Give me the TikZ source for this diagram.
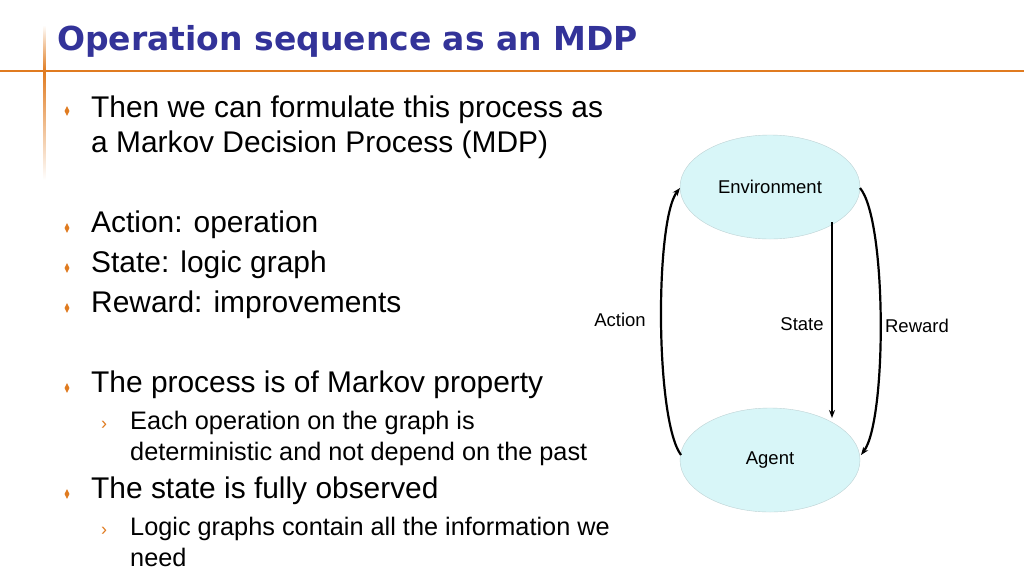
\documentclass[tikz,border=0pt]{standalone}
\usepackage{fontspec}
\setmainfont{Liberation Sans}
\newfontfamily\titlefont{DejaVu Sans}
\usetikzlibrary{shapes.geometric,arrows.meta}
\definecolor{ttl}{HTML}{333399}
\definecolor{org}{HTML}{E07B20}
\definecolor{ell}{HTML}{D8F6F8}
\tikzset{
  txt/.style={anchor=base west,inner sep=0pt,font=\fontsize{29.9}{32}\selectfont},
  sub/.style={anchor=base west,inner sep=0pt,font=\fontsize{25.3}{28}\selectfont},
  lbl/.style={inner sep=0pt,font=\fontsize{18.5}{20}\selectfont},
  blt/.style={diamond,fill=org,inner sep=0pt,minimum width=5pt,minimum height=10pt},
  sblt/.style={anchor=base,inner sep=0pt,text=org,font=\fontsize{18}{18}\selectfont},
  ellbox/.style={ellipse,draw=ell!70!gray,fill=ell,minimum width=180pt,minimum height=104pt,inner sep=0pt,font=\fontsize{18.5}{20}\selectfont},
  arr/.style={-{Stealth[length=8pt,width=6pt]},line width=2.2pt},
}
\begin{document}
\begin{tikzpicture}[x=1pt,y=-1pt]
\useasboundingbox (0,0) rectangle (1024,576);
\fill[white] (0,0) rectangle (1024,576);
\draw[org,line width=1.3pt] (0,71) -- (1024,71);
\shade[top color=white,bottom color=org] (43.3,25) rectangle (45.3,71);
\shade[top color=org,bottom color=white] (43.3,71) rectangle (45.3,180);
\node[anchor=base west,inner sep=0pt,text=ttl,font=\titlefont\bfseries\fontsize{33}{36}\selectfont] (title) at (57,50) {Operation sequence as an MDP};
% bullets
\node[txt] (t1) at (91,117) {Then we can formulate this process as};
\node[txt] (t1b) at (91,152) {a Markov Decision Process (MDP)};
\node[txt] (t2) at (91,232) {Action: operation};
\node[txt] (t3) at (91,272) {State: logic graph};
\node[txt] (t4) at (91,312) {Reward: improvements};
\node[txt] (t5) at (91,392) {The process is of Markov property};
\node[sub] (s1) at (130,429) {Each operation on the graph is};
\node[sub] (s1b) at (130,460) {deterministic and not depend on the past};
\node[txt] (t6) at (91,498) {The state is fully observed};
\node[sub] (s2) at (130,535) {Logic graphs contain all the information we};
\node[sub] (s2b) at (130,566) {need};
\foreach \y/\n in {111/b1,228/b2,268/b3,308/b4,388/b5,494/b6} \node[blt] (\n) at (67,\y) {};
\node[sblt] (sb1) at (104,429) {›};
\node[sblt] (sb2) at (104,535) {›};
% diagram
\node[ellbox] (env) at (770,187) {Environment};
\node[ellbox] (ag) at (770,460) {Agent};
\coordinate (envL) at (680,188);
\coordinate (envR) at (860,188);
\coordinate (agL) at (681,455);
\coordinate (agR) at (861,455);
\coordinate (stT) at (832,222);
\coordinate (stB) at (832,418);
\draw[arr] (agL) .. controls (655,420) and (655,220) .. (envL);
\draw[arr] (envR) .. controls (887,220) and (887,420) .. (agR);
\draw[arr,line width=1.4pt] (stT) -- (stB);
\node[lbl] (la) at (620,320) {Action};
\node[lbl] (ls) at (802,324) {State};
\node[lbl] (lr) at (917,326) {Reward};
\end{tikzpicture}
\end{document}
